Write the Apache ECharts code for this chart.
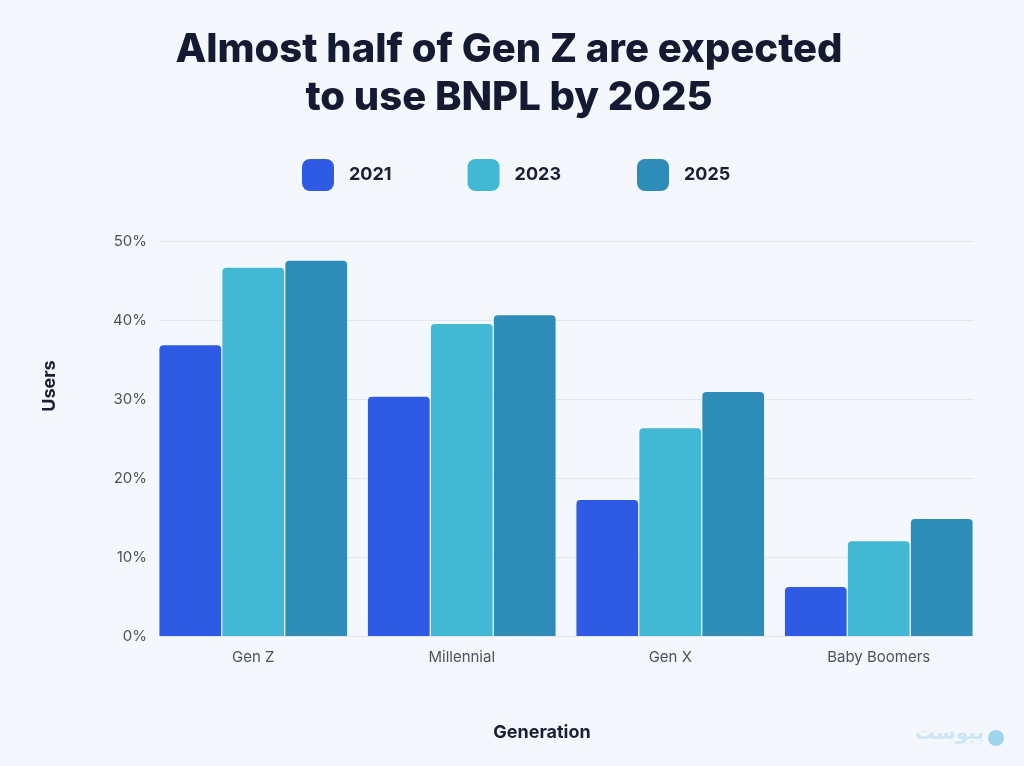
<!DOCTYPE html>
<html><head><meta charset="utf-8">
<script src="https://cdn.jsdelivr.net/npm/echarts@6/dist/echarts.min.js"></script>
<style>html,body{margin:0;padding:0;background:#f4f8fd;}#c{width:1024px;height:766px;}</style>
</head><body><div id="c"></div>
<script>
const categories = ['Gen Z', 'Millennial', 'Gen X', 'Baby Boomers'];
const years = ['2021', '2023', '2025'];
const values2021 = [36.8, 30.3, 17.2, 6.2];
const values2023 = [46.6, 39.5, 26.3, 12.0];
const values2025 = [47.5, 40.6, 30.9, 14.8];
const colors = ['#2f5be4', '#42b8d4', '#2e8cb8'];
const yTicks = [0, 10, 20, 30, 40, 50];

const chart = echarts.init(document.getElementById('c'));
const seriesData = [values2021, values2023, values2025];
chart.setOption({
  backgroundColor: '#f4f8fd',
  title: {
    text: 'Almost half of Gen Z are expected\nto use BNPL by 2025',
    left: 504, textAlign: 'center', top: 21,
    textStyle: { fontFamily: 'Inter', fontWeight: 800, fontSize: 40, lineHeight: 48, color: '#151a33' }
  },
  legend: {
    data: years, top: 154, left: 297,
    itemWidth: 32, itemHeight: 32, itemGap: 76,
    icon: 'roundRect',
    textStyle: { fontFamily: 'Inter', fontWeight: 700, fontSize: 18, color: '#1a1f36', padding: [0, 0, 0, 10] }
  },
  grid: [
    { left: 149, right: 41, top: 241, bottom: 130 },
    { left: 160, right: 50, top: 241, bottom: 130 }
  ],
  xAxis: [
    { type: 'category', gridIndex: 0, data: categories,
      axisLine: { show: false }, axisTick: { show: false },
      axisLabel: { fontFamily: 'Inter', fontSize: 15, color: '#4a5262', margin: 14 } },
    { type: 'category', gridIndex: 1, data: categories, show: false }
  ],
  yAxis: [
    { type: 'value', gridIndex: 0, min: 0, max: 50, interval: 10, show: false },
    { type: 'value', gridIndex: 1, min: 0, max: 50, interval: 10,
      axisLabel: { formatter: v => yTicks.includes(v) ? v + '%' : '', fontFamily: 'Inter', fontSize: 15, color: '#4a5262', margin: 13 },
      splitLine: { lineStyle: { color: '#e2e8f0', width: 1 } },
      axisLine: { show: false }, axisTick: { show: false } }
  ],
  series: years.map((y, i) => ({
    name: y, type: 'bar', xAxisIndex: 0, yAxisIndex: 0,
    data: seriesData[i],
    barGap: '2%', barCategoryGap: '10%',
    itemStyle: { color: colors[i], borderRadius: [4, 4, 0, 0] },
    z: 3
  })),
  graphic: [
    { type: 'text', x: 50, y: 386, rotation: Math.PI / 2,
      style: { text: 'Users', fontFamily: 'Inter', fontWeight: 700, fontSize: 18, fill: '#1a1f36', align: 'center', verticalAlign: 'middle' } },
    { type: 'text', x: 542, y: 733,
      style: { text: 'Generation', fontFamily: 'Inter', fontWeight: 700, fontSize: 18, fill: '#1a1f36', align: 'center', verticalAlign: 'middle' } },
    { type: 'text', right: 40, top: 724,
      style: { text: 'پیوست', fontFamily: 'DejaVu Sans', fontWeight: 'bold', fontSize: 20, fill: '#cbe6f4' } },
    { type: 'circle', shape: { cx: 996, cy: 738, r: 8 }, style: { fill: '#9fd6ee' } }
  ]
});
</script></body></html>
